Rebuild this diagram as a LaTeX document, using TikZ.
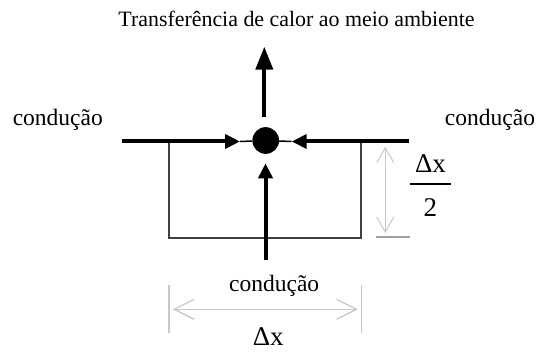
\documentclass[tikz,border=0pt]{standalone}
\usepackage{fontspec}
\setmainfont{Liberation Serif}
\usetikzlibrary{arrows.meta}
\definecolor{dimgray}{HTML}{C8C8C8}
\definecolor{extgray}{HTML}{A0A0A0}
\definecolor{boxgray}{HTML}{404040}
\begin{document}
\begin{tikzpicture}[x=1pt,y=-1pt,
  lbl/.style={inner sep=0pt,anchor=base,font=\fontsize{23.5}{26}\selectfont},
  ttl/.style={inner sep=0pt,anchor=base,font=\fontsize{21.9}{25}\selectfont},
  dlbl/.style={inner sep=0pt,anchor=base,font=\fontsize{27}{30}\selectfont},
  heat/.style={line width=4pt,-{Triangle[length=23pt,width=17pt]}},
  heatsm/.style={line width=4pt,-{Triangle[length=15pt,width=14pt]}},
  thin/.style={line width=1.5pt},
  boxline/.style={line width=2pt,draw=boxgray},
  dimline/.style={line width=1.3pt,draw=dimgray,{Straight Barb[length=20pt,width=20pt]}-{Straight Barb[length=20pt,width=20pt]}},
  dimlinev/.style={line width=1pt,draw=dimgray,{Straight Barb[length=15pt,width=17pt]}-{Straight Barb[length=15pt,width=17pt]}},
  ext/.style={line width=1.5pt,draw=dimgray}]
\useasboundingbox (0,0) rectangle (536,352);
% box
\draw[boxline] (169,141.5) -- (169,237.7) -- (361,237.7) -- (361,141.5);
% dot
\node[circle,fill=black,inner sep=0pt,minimum size=26.7pt] (dot) at (265.7,140.5) {};
% coordinates
\coordinate (ls) at (122,141.5);
\coordinate (lt) at (240,141.5);
\coordinate (rs) at (409,141.5);
\coordinate (rt) at (291.7,141.5);
\coordinate (us) at (264.3,117.3);
\coordinate (ut) at (264.3,46.7);
\coordinate (bs) at (265.5,260.5);
\coordinate (bt) at (265.5,163.3);
% conduction arrows
\draw[heatsm] (ls) -- (lt);
\draw[thin] (lt) -- (dot);
\draw[heatsm] (rs) -- (rt);
\draw[thin] (rt) -- (dot);
\draw[heatsm] (bs) -- (bt);
\draw[heat] (us) -- (ut);
% labels
\node[ttl] (title) at (296.5,26.7) {Transferência de calor ao meio ambiente};
\node[lbl] (cl) at (57.8,125.6) {condução};
\node[lbl] (cr) at (490,125.3) {condução};
\node[lbl] (cb) at (274.2,291.8) {condução};
% vertical dimension
\coordinate (vt) at (385.3,146.7);
\coordinate (vb) at (385.3,233);
\draw[dimlinev] (vt) -- (vb);
\coordinate (e1) at (376,236.9);
\coordinate (e2) at (410,236.9);
\draw[line width=1.3pt,draw=extgray] (e1) -- (e2);
\node[dlbl] (dxv) at (430.5,172.7) {Δx};
\coordinate (fb1) at (410,184);
\coordinate (fb2) at (450.7,184);
\draw[line width=1.3pt] (fb1) -- (fb2);
\node[dlbl] (two) at (430.3,216.7) {2};
% horizontal dimension
\coordinate (hl) at (172.7,309.3);
\coordinate (hr) at (358,309.3);
\draw[dimline] (hl) -- (hr);
\coordinate (x1a) at (169,285);
\coordinate (x1b) at (169,333.3);
\coordinate (x2a) at (361.7,285);
\coordinate (x2b) at (361.7,333.3);
\draw[ext] (x1a) -- (x1b);
\draw[ext] (x2a) -- (x2b);
\node[dlbl] (dxh) at (268.3,345.5) {Δx};
\end{tikzpicture}
\end{document}
